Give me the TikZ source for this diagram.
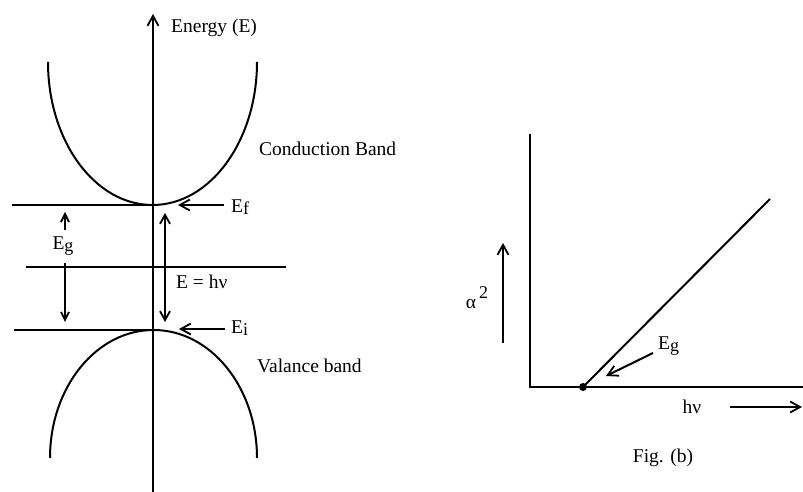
\documentclass[tikz,border=0pt]{standalone}
\usepackage{fontspec}
\setmainfont{Liberation Serif}
\usetikzlibrary{arrows.meta}
\begin{document}
\begin{tikzpicture}[x=1pt,y=1pt,
  ln/.style={line width=2pt},
  arr/.style={ln,-{Straight Barb[length=10pt,width=11pt,line width=1.8pt]}},
  arrn/.style={ln,-{Straight Barb[length=8pt,width=8pt,line width=1.8pt]}},
  lbl/.style={font=\fontsize{19.5}{22}\selectfont, inner sep=0pt}]
\useasboundingbox (0,0) rectangle (803,492);
% ---- left figure ----
\coordinate (axB) at (153,0);
\coordinate (axT) at (153,478);
\draw[arr] (axB) -- (axT);
\node[lbl, anchor=west] (energy) at (171,464) {Energy (E)};
% conduction band
\coordinate (cbL) at (48,430);
\draw[ln] (cbL) arc[start angle=180, end angle=360, x radius=104.5, y radius=143];
% valence band
\coordinate (vbL) at (50,34);
\draw[ln] (vbL) arc[start angle=180, end angle=0, x radius=103.5, y radius=128];
% levels
\coordinate (efL) at (12,287); \coordinate (efR) at (153,287);
\draw[ln] (efL) -- (efR);
\coordinate (midL) at (26,225); \coordinate (midR) at (286,225);
\draw[ln] (midL) -- (midR);
\coordinate (eiL) at (14,162); \coordinate (eiR) at (153,162);
\draw[ln] (eiL) -- (eiR);
% Ef
\node[lbl, anchor=west] (ef) at (231,285) {E\raisebox{-0.3ex}{\fontsize{18}{20}\selectfont f}};
\coordinate (efA) at (178,287);
\draw[arr] (ef.west) ++(-7,2) -- (efA);
% Ei
\node[lbl, anchor=west] (ei) at (231,164) {E\raisebox{-0.3ex}{\fontsize{18}{20}\selectfont i}};
\coordinate (eiA) at (179,163);
\draw[arr] (ei.west) ++(-6,-1) -- (eiA);
% Eg
\node[lbl] (eg) at (63,246) {E\raisebox{-0.3ex}{\fontsize{18}{20}\selectfont g}};
\coordinate (egUp) at (65,280); \coordinate (egDn) at (65,170);
\coordinate (egU0) at (65,262); \coordinate (egD0) at (65,229);
\draw[arrn] (egU0) -- (egUp);
\draw[arrn] (egD0) -- (egDn);
% E = hv
\coordinate (hvT) at (165,279); \coordinate (hvB) at (165,170);
\draw[ln,{Straight Barb[length=9pt,width=10pt,line width=1.8pt]}-{Straight Barb[length=9pt,width=10pt,line width=1.8pt]}] (hvB) -- (hvT);
\node[lbl, anchor=west] (ehv) at (176,210) {E = hν};
\node[lbl, anchor=west] (cb) at (259,343) {Conduction Band};
\node[lbl, anchor=west] (vb) at (257,126) {Valance band};
% ---- right figure ----
\coordinate (o) at (530,105);
\coordinate (yT) at (530,358);
\coordinate (xR) at (803,105);
\draw[ln] (yT) -- (o) -- (xR);
\coordinate (g) at (583,105);
\coordinate (lT) at (770,293);
\draw[ln] (g) -- (lT);
\fill (g) circle[radius=4];
\node[lbl, anchor=west] (eg2) at (658,146) {E\raisebox{-0.3ex}{\fontsize{18}{20}\selectfont g}};
\coordinate (eg2A) at (606,116);
\draw[arr] (653,139) -- (eg2A);
\coordinate (aB) at (503,149); \coordinate (aT) at (503,249);
\draw[arr] (aB) -- (aT);
\node[lbl] (alpha) at (477,194) {α\raisebox{1.1ex}{\fontsize{18}{20}\selectfont\,2}};
\node[lbl] (hv) at (692,85) {hν};
\coordinate (hA0) at (730,85); \coordinate (hA1) at (802,85);
\draw[arr] (hA0) -- (hA1);
\node[lbl] (fig) at (663,34) {Fig. (b)};
\end{tikzpicture}
\end{document}
